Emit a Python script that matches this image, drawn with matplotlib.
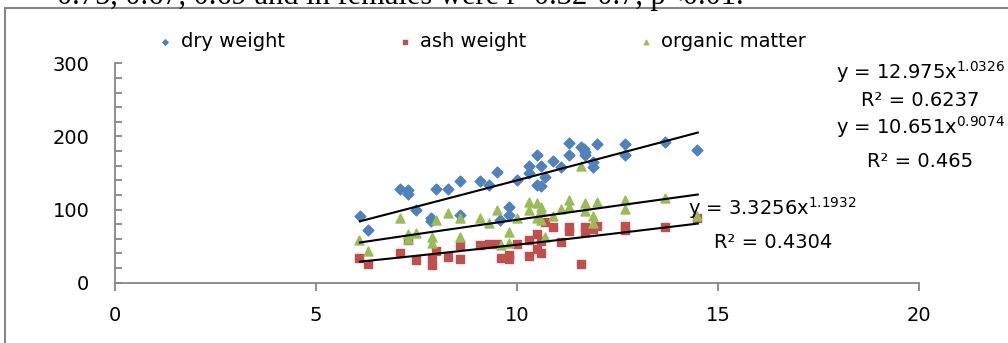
import numpy as np
import matplotlib
matplotlib.use("Agg")
import matplotlib.pyplot as plt
from matplotlib.patches import Rectangle

plt.rcParams['font.family'] = ['DejaVu Sans']
plt.rcParams['mathtext.default'] = 'regular'

# --- data ---
dry_x = [6.10, 6.30, 7.10, 7.30, 7.30, 7.50, 7.88, 7.88, 8.00, 8.29, 8.59, 8.59,
         9.09, 9.30, 9.50, 9.58, 9.80, 9.80, 10.0, 10.3, 10.3, 10.5, 10.5, 10.6,
         10.6, 10.7, 10.9, 11.09, 11.29, 11.29, 11.59, 11.66, 11.69, 11.69, 11.89,
         11.89, 11.99, 12.68, 12.68, 13.69, 14.49]
dry_y = [91, 72, 128, 127, 121, 99, 89, 85, 128, 128, 139, 93,
         139, 134, 152, 86, 103, 93, 140, 159, 150, 175, 133, 132,
         160, 145, 167, 158, 191, 175, 186, 183, 179, 175, 165,
         158, 189, 190, 174, 192, 181]

ash_x = [6.09, 6.30, 7.10, 7.30, 7.50, 7.89, 7.89, 8.00, 8.29, 8.59, 8.59, 9.09,
         9.30, 9.50, 9.60, 9.80, 9.80, 10.0, 10.3, 10.3, 10.5, 10.5, 10.6, 10.6,
         10.7, 10.9, 11.09, 11.29, 11.29, 11.59, 11.69, 11.69, 11.89, 11.99,
         12.68, 12.68, 13.69, 14.49]
ash_y = [34, 26, 41, 58, 31, 34, 24, 44, 35, 51, 32, 51,
         53, 53, 34, 38, 33, 53, 59, 37, 67, 46, 40, 57,
         83, 76, 55, 76, 71, 25, 76, 70, 73, 77,
         77, 72, 76, 88]

org_x = [6.09, 6.30, 7.10, 7.30, 7.30, 7.50, 7.89, 7.89, 8.00, 8.29, 8.59, 8.59,
         9.09, 9.30, 9.50, 9.60, 9.80, 9.80, 10.0, 10.3, 10.3, 10.5, 10.5, 10.6,
         10.6, 10.6, 10.7, 10.9, 11.09, 11.29, 11.29, 11.59, 11.69, 11.69, 11.89,
         11.89, 11.99, 12.68, 12.68, 13.69, 14.49]
org_y = [58, 44, 88, 66, 60, 68, 62, 54, 86, 95, 88, 62,
         88, 81, 99, 52, 70, 54, 88, 111, 99, 109, 88, 103,
         98, 86, 63, 91, 101, 113, 103, 159, 109, 98, 91,
         81, 110, 113, 101, 116, 91]

# power trend lines as printed on the chart: y = a * x^b
trend_a = {"dry": 12.975, "org": 10.651, "ash": 3.3256}
trend_b = {"dry": 1.0326, "org": 0.9074, "ash": 1.1932}
trend_range = (6.1, 14.5)

blue, red, green = "#4F81BD", "#C0504D", "#9BBB59"
grey = "#868686"

W, H = 1008, 343
fig = plt.figure(figsize=(W / 100, H / 100), dpi=100)
ax = fig.add_axes([114.5 / W, 1 - 282.7 / H, (919 - 114.5) / W, (282.7 - 63.3) / H])

ax.scatter(dry_x, dry_y, marker="D", s=30, color=blue, label="dry weight", zorder=3)
ax.scatter(ash_x, ash_y, marker="s", s=36, color=red, label="ash weight", zorder=3)
ax.scatter(org_x, org_y, marker="^", s=42, color=green, label="organic matter", zorder=3)

xs = np.linspace(trend_range[0], trend_range[1], 100)
for key in ["dry", "org", "ash"]:
    ax.plot(xs, trend_a[key] * xs ** trend_b[key], color="black", lw=1.5, zorder=4)

ax.set_xlim(0, 20)
ax.set_ylim(0, 300)
ax.set_xticks([0, 5, 10, 15, 20])
ax.set_yticks([0, 100, 200, 300])
ax.set_yticks(np.arange(0, 301, 20), minor=True)
for s in ["top", "right"]:
    ax.spines[s].set_visible(False)
for s in ["left", "bottom"]:
    ax.spines[s].set_color(grey)
    ax.spines[s].set_linewidth(1.3)
ax.tick_params(axis="x", direction="out", length=6, width=1.3, color=grey,
               labelsize=14, pad=11)
ax.tick_params(axis="y", which="both", direction="in", length=5, width=1.3,
               color=grey, labelsize=14, pad=18)

leg = ax.legend(loc="center", bbox_to_anchor=(0.458, 1 + (63.3 - 41.5) / (282.7 - 63.3)),
                ncol=3, frameon=False, fontsize=14, markerscale=0.5,
                handlelength=0.6, handletextpad=0.5, columnspacing=5.85,
                borderaxespad=0)

def px(x, y):
    return x / W, 1 - y / H

fs = 14
fig.text(*px(1005, 72), "y = 12.975x$^{1.0326}$", ha="right", va="center", fontsize=fs)
fig.text(*px(920, 100), "R² = 0.6237", ha="center", va="center", fontsize=fs)
fig.text(*px(1005, 127), "y = 10.651x$^{0.9074}$", ha="right", va="center", fontsize=fs)
fig.text(*px(920, 162), "R² = 0.465", ha="center", va="center", fontsize=fs)
fig.text(*px(688, 208), "y = 3.3256x$^{1.1932}$", ha="left", va="center", fontsize=fs)
fig.text(*px(773, 242), "R² = 0.4304", ha="center", va="center", fontsize=fs)

# chart border and the clipped line of body text above it
fig.patches.append(Rectangle(px(5, 400), (1100 - 5) / W, (400 - 8) / H,
                             transform=fig.transFigure, fill=False,
                             edgecolor=grey, lw=1.5))
fig.text(*px(57, 4), "0.75, 0.67, 0.69 and in females were r=0.32-0.7, p<0.01.",
         ha="left", va="baseline", fontsize=22, family="Liberation Serif")

fig.savefig("out.png", dpi=100)
